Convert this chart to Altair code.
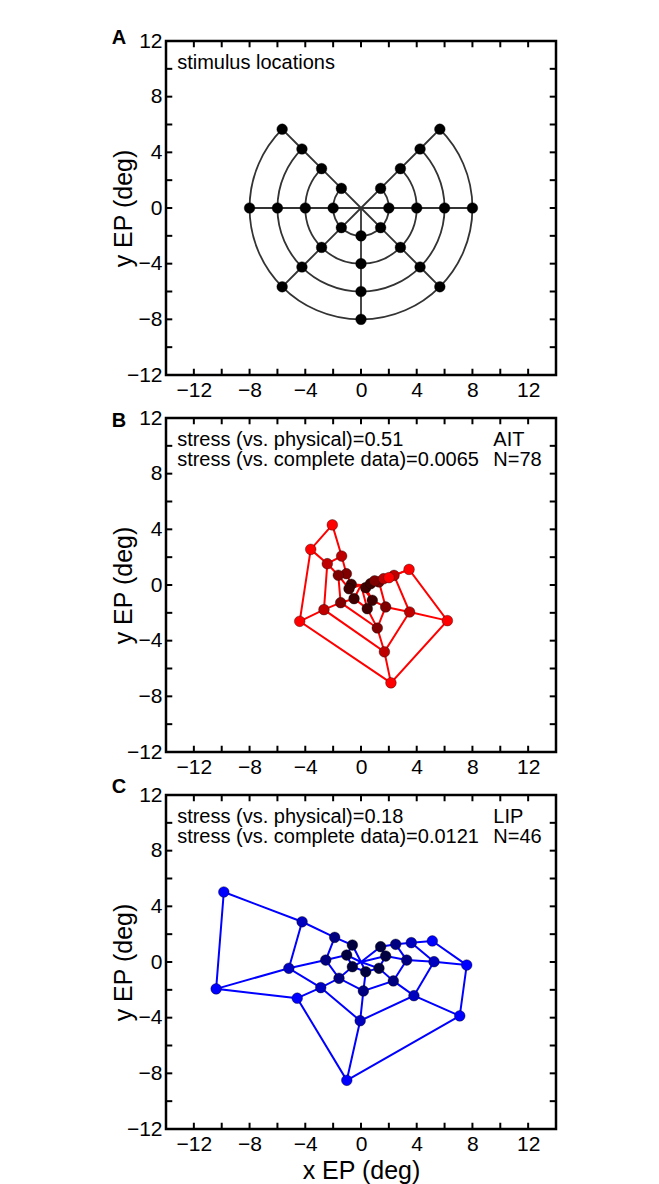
import altair as alt
import pandas as pd

# ---------------- data ----------------
ANGLES = [135, 180, 225, 270, 315, 0, 45]      # order along each ring
RINGS = [2, 4, 6, 8]                            # eccentricities (deg)

# panel A: physical stimulus locations (ring-major, angle order as ANGLES)
A_X = [-1.41, -2.00, -1.41, 0.00, 1.41, 2.00, 1.41,
       -2.83, -4.00, -2.83, 0.00, 2.83, 4.00, 2.83,
       -4.24, -6.00, -4.24, 0.00, 4.24, 6.00, 4.24,
       -5.66, -8.00, -5.66, 0.00, 5.66, 8.00, 5.66]
A_Y = [1.41, 0.00, -1.41, -2.00, -1.41, 0.00, 1.41,
       2.83, 0.00, -2.83, -4.00, -2.83, 0.00, 2.83,
       4.24, 0.00, -4.24, -6.00, -4.24, 0.00, 4.24,
       5.66, 0.00, -5.66, -8.00, -5.66, 0.00, 5.66]

# panel B: AIT reconstruction
B_X = [-0.70, -0.86, -0.50, 0.45, 0.81, 0.34, 0.69,
       -1.05, -1.63, -1.46, 1.17, 1.77, 1.29, 0.98,
       -1.39, -2.42, -2.66, 1.68, 3.49, 2.37, 1.62,
       -2.06, -3.61, -4.40, 2.15, 6.20, 3.45, 2.01]
B_Y = [0.05, -0.27, -0.98, -1.70, -1.10, -0.19, 0.10,
       0.81, 0.70, -1.27, -3.09, -1.58, 0.22, 0.30,
       2.08, 1.53, -1.77, -4.80, -1.94, 0.69, 0.45,
       4.32, 2.56, -2.61, -7.03, -2.56, 1.12, 0.53]

# panel C: LIP reconstruction
C_X = [-0.62, -1.03, -0.62, 0.34, 1.29, 1.77, 1.41,
       -1.89, -2.53, -1.58, 0.17, 2.32, 3.28, 2.49,
       -4.23, -5.18, -2.89, -0.06, 3.80, 5.24, 3.61,
       -9.85, -10.40, -4.58, -1.02, 7.09, 7.59, 5.12]
C_Y = [1.22, 0.50, -0.34, -0.70, -0.45, 0.43, 1.10,
       1.77, 0.14, -1.17, -2.08, -1.36, 0.14, 1.27,
       2.89, -0.45, -1.84, -4.22, -2.42, 0.02, 1.39,
       5.03, -1.93, -2.60, -8.50, -3.87, -0.22, 1.51]

RING_COLORS = {
    "A": ["#000000", "#000000", "#000000", "#000000"],
    "B": ["#400000", "#800000", "#bf0000", "#ff0000"],
    "C": ["#000040", "#000080", "#0000bf", "#0000ff"],
}
LINE_COLORS = {"A": "#333333", "B": "#ff0000", "C": "#0000ff"}

LETTERS = ["A", "B", "C"]
LETTER_X = -17.9
LETTER_Y = [12.2, 11.8, 12.6]

TEXT_LEFT = {
    "A": ["stimulus locations"],
    "B": ["stress (vs. physical)=0.51", "stress (vs. complete data)=0.0065"],
    "C": ["stress (vs. physical)=0.18", "stress (vs. complete data)=0.0121"],
}
TEXT_RIGHT = {"A": [], "B": ["AIT", "N=78"], "C": ["LIP", "N=46"]}
TEXT_LEFT_X = -13.2
TEXT_RIGHT_X = 9.5
TEXT_ROW_Y = [10.45, 8.95]

X_LABELS = [-12, -8, -4, 0, 4, 8, 12]
Y_LABELS = [-12, -8, -4, 0, 4, 8, 12]
X_MINOR = [-12, -10, -8, -6, -4, -2, 0, 2, 4, 6, 8, 10, 12]
Y_MINOR = [-10, -8, -6, -4, -2, 0, 2, 4, 6, 8, 10]
X_DOMAIN = [-14, 14]
Y_DOMAIN = [-12, 12]
TICK_LEN = 0.45

PANELS = {"A": (A_X, A_Y), "B": (B_X, B_Y), "C": (C_X, C_Y)}

W, H = 390, 334
FONT = "Liberation Sans"


def build_panel(key, idx):
    xs, ys = PANELS[key]
    n_ang = len(ANGLES)
    pts, lines = [], []
    for ri, r in enumerate(RINGS):
        for ai, ang in enumerate(ANGLES):
            k = ri * n_ang + ai
            pts.append({"x": xs[k], "y": ys[k], "color": RING_COLORS[key][ri], "ring": r})
    # radial lines from the fixation point outwards
    for ai, ang in enumerate(ANGLES):
        lines.append({"x": 0.0, "y": 0.0, "grp": f"rad{ang}", "ord": 0})
        for ri, r in enumerate(RINGS):
            k = ri * n_ang + ai
            lines.append({"x": xs[k], "y": ys[k], "grp": f"rad{ang}", "ord": ri + 1})
    # ring lines (polylines) for reconstructed panels
    if key != "A":
        for ri, r in enumerate(RINGS):
            for ai, ang in enumerate(ANGLES):
                k = ri * n_ang + ai
                lines.append({"x": xs[k], "y": ys[k], "grp": f"ring{r}", "ord": ai})

    xtitle = "x EP (deg)" if key == "C" else None
    xax = alt.Axis(values=X_LABELS, title=xtitle)
    yax = alt.Axis(values=Y_LABELS, title="y EP (deg)", titleX=-30)
    xs_ = alt.Scale(domain=X_DOMAIN, nice=False, zero=False)
    ys_ = alt.Scale(domain=Y_DOMAIN, nice=False, zero=False)

    def X(f):
        return alt.X(f, type="quantitative", scale=xs_, axis=xax)

    def Y(f):
        return alt.Y(f, type="quantitative", scale=ys_, axis=yax)

    lw = 1.8 if key == "A" else 2.0
    layers = []
    if key == "A":
        arcs = pd.DataFrame({"r": RINGS, "cx": [0.0] * 4, "cy": [0.0] * 4,
                             "t1": [45] * 4, "t2": [315] * 4})
        layers.append(
            alt.Chart(arcs).mark_arc(fillOpacity=0, stroke=LINE_COLORS[key], strokeWidth=lw)
            .encode(
                x=X("cx"), y=Y("cy"),
                theta=alt.Theta("t1:Q", scale=alt.Scale(domain=[0, 360], range=[0, 6.283185307])),
                theta2=alt.Theta2("t2:Q"),
                radius=alt.Radius("r:Q", scale=alt.Scale(type="linear", domain=[0, 14], range=[0, W / 2], zero=True)),
                radius2=alt.Radius2("r:Q"),
            )
        )
    layers.append(
        alt.Chart(pd.DataFrame(lines)).mark_line(color=LINE_COLORS[key], strokeWidth=lw)
        .encode(x=X("x"), y=Y("y"), detail="grp:N", order="ord:Q")
    )
    layers.append(
        alt.Chart(pd.DataFrame(pts)).mark_circle(size=115, opacity=1, stroke="#000000",
                                                 strokeWidth=0.8, strokeOpacity=0.45)
        .encode(x=X("x"), y=Y("y"), color=alt.Color("color:N", scale=None))
    )
    # inward ticks on all four sides
    vt, ht = [], []
    for t in X_MINOR:
        vt.append({"x": t, "y": Y_DOMAIN[0], "y2": Y_DOMAIN[0] + TICK_LEN})
        vt.append({"x": t, "y": Y_DOMAIN[1], "y2": Y_DOMAIN[1] - TICK_LEN})
    for t in Y_MINOR:
        ht.append({"y": t, "x": X_DOMAIN[0], "x2": X_DOMAIN[0] + TICK_LEN})
        ht.append({"y": t, "x": X_DOMAIN[1], "x2": X_DOMAIN[1] - TICK_LEN})
    layers.append(
        alt.Chart(pd.DataFrame(vt)).mark_rule(color="black", strokeWidth=2)
        .encode(x=X("x"), y=Y("y"), y2=alt.Y2("y2:Q"))
    )
    layers.append(
        alt.Chart(pd.DataFrame(ht)).mark_rule(color="black", strokeWidth=2)
        .encode(x=X("x"), x2=alt.X2("x2:Q"), y=Y("y"))
    )
    # annotation texts
    trows = []
    for i, s in enumerate(TEXT_LEFT[key]):
        trows.append({"x": TEXT_LEFT_X, "y": TEXT_ROW_Y[i], "t": s})
    for i, s in enumerate(TEXT_RIGHT[key]):
        trows.append({"x": TEXT_RIGHT_X, "y": TEXT_ROW_Y[i], "t": s})
    layers.append(
        alt.Chart(pd.DataFrame(trows)).mark_text(align="left", baseline="middle", fontSize=20,
                                                 font=FONT, color="black")
        .encode(x=X("x"), y=Y("y"), text="t:N")
    )
    layers.append(
        alt.Chart(pd.DataFrame({"x": [LETTER_X], "y": [LETTER_Y[idx]], "t": [LETTERS[idx]]}))
        .mark_text(align="left", baseline="middle", fontSize=20, fontWeight="bold",
                   font=FONT, color="black")
        .encode(x=X("x"), y=Y("y"), text="t:N")
    )
    return alt.layer(*layers).properties(width=W, height=H)


chart = alt.vconcat(
    build_panel("A", 0), build_panel("B", 1), build_panel("C", 2),
    spacing=43, bounds="flush",
).properties(
    padding={"left": 109, "top": 26, "right": 5, "bottom": 5},
    background="white",
).configure_view(
    stroke="black", strokeWidth=2.5
).configure_axis(
    labelFont=FONT, labelFontSize=21, labelColor="black",
    titleFont=FONT, titleFontSize=25, titleFontWeight="normal", titleColor="black",
    domain=False, ticks=False, tickSize=0, grid=False, labelPadding=4,
)

chart.save("out.html", embed_options={"renderer": "svg", "actions": False})
